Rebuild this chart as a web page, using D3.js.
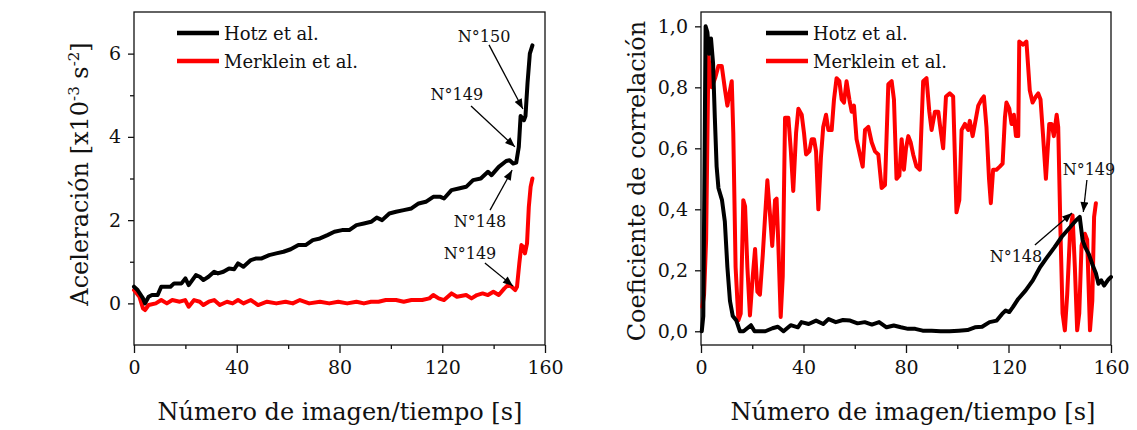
<!DOCTYPE html>
<html>
<head>
<meta charset="utf-8">
<script src="https://cdn.jsdelivr.net/npm/d3@7"></script>
<style>
  body { margin: 0; background: #fff; }
  svg text { font-family: "DejaVu Serif", serif; fill: #111; }
</style>
</head>
<body>
<div id="chart"></div>
<script>
/**
 * DATA
 * */
// left panel: acceleration [x10^-3 s^-2] vs image number / time [s]
const hotzAcc = [[0,0.4],[1.4,0.32],[3.5,0.12],[4.3,0.0],[5.7,0.16],[7,0.2],[9.2,0.2],[10.6,0.4],[14.2,0.4],
  [15.6,0.48],[18.5,0.48],[20,0.6],[21.3,0.44],[22.7,0.56],[24.1,0.68],[25.6,0.64],[27,0.56],[29,0.64],
  [31.2,0.76],[32.7,0.72],[34.8,0.76],[37,0.84],[39,0.82],[40.5,0.96],[42.6,0.88],[45.5,1.04],[47.6,1.08],
  [49.7,1.08],[52.6,1.16],[55.4,1.2],[58.2,1.24],[61,1.3],[64,1.4],[66.8,1.4],[69.6,1.52],[72.4,1.56],
  [75.3,1.64],[78,1.72],[81,1.76],[83.8,1.76],[86.6,1.88],[89.5,1.92],[92.3,1.96],[94.5,2.06],[96.6,2.0],
  [99.4,2.16],[102,2.2],[105,2.24],[108,2.28],[110.8,2.4],[113.6,2.44],[116.5,2.56],[119.3,2.56],[120.7,2.52],
  [123.6,2.72],[126.4,2.76],[129.3,2.8],[132,2.96],[135,3.0],[137.8,3.16],[139.2,3.08],[142,3.28],[144.9,3.42],
  [146.2,3.44],[147.6,3.36],[148.8,3.38],[149.8,3.76],[150.5,4.5],[151.8,4.4],[152.4,4.5],[153.2,5.3],
  [154.1,6.0],[155.1,6.2]];

const merkleinAcc = [[0,0.32],[2.1,0.16],[3.5,-0.12],[4.3,-0.16],[5.7,-0.04],[8.5,0],[10.6,0.08],[12.8,0],
  [14.9,0.08],[17.8,0.04],[19.9,0.08],[21.3,-0.08],[23.4,0.08],[25.6,0.04],[27,-0.04],[29.1,0.04],[31.2,0.08],
  [33.4,-0.04],[36.2,0.04],[38.4,0],[40.5,0.08],[42.6,0],[45.5,0.08],[48.3,-0.04],[51.8,0.04],[55.4,0],
  [59,0.04],[61.8,0],[64.6,0.08],[68.2,0],[72.4,0.04],[76,0],[79.5,0.04],[83,0],[86.6,0.04],[89.5,0],
  [92.3,0.04],[95.2,0.04],[98,0.08],[102,0.08],[105,0.04],[108,0.08],[112.2,0.08],[115,0.12],[116.5,0.2],
  [118.6,0.12],[120.7,0.08],[123.6,0.24],[125.7,0.16],[129.3,0.2],[131.4,0.12],[133.5,0.2],[135.7,0.24],
  [137.8,0.2],[139.9,0.28],[142,0.2],[144.2,0.36],[145.6,0.44],[147,0.4],[148.4,0.32],[149.1,0.4],[150,0.96],
  [150.8,1.4],[151.5,1.36],[152.2,1.2],[153,1.44],[153.7,2.32],[154.4,2.8],[155.1,3.0]];

// right panel: correlation coefficient vs image number / time [s]
const hotzCorr = [[0.3,0],[0.9,0.05],[1.8,1.0],[2.5,0.98],[3.2,0.91],[3.9,0.96],[4.7,0.88],[5.4,0.70],
  [6.1,0.54],[6.8,0.47],[8.2,0.43],[9.3,0.36],[10.3,0.21],[11.3,0.10],[12.4,0.05],[13.8,0.035],[15.2,0.0],
  [16.6,0.0],[19.5,0.02],[20.9,0],[25.1,0],[27.9,0.01],[30,0.015],[32.2,0],[35,0.02],[37.8,0.013],[39.2,0.03],
  [42,0.024],[44.9,0.035],[47.7,0.024],[49.8,0.04],[52.6,0.03],[55.4,0.037],[58.2,0.035],[61.1,0.026],
  [63.9,0.03],[66.7,0.022],[69.5,0.03],[72.4,0.013],[75.2,0.019],[78,0.013],[80.8,0.008],[83.6,0.008],
  [86.5,0.002],[90,0.002],[93.5,0],[97,0],[100.6,0.002],[104,0.004],[106.9,0.013],[109.7,0.015],[112.6,0.03],
  [115.4,0.035],[117.5,0.057],[118.9,0.068],[120.3,0.063],[121.7,0.079],[123.8,0.106],[126.7,0.134],
  [129.5,0.167],[132.3,0.21],[135.1,0.243],[138,0.276],[140.8,0.31],[143.6,0.337],[146.4,0.364],[147.8,0.375],
  [148.9,0.30],[149.9,0.276],[151.3,0.254],[152.7,0.22],[154.1,0.19],[155.1,0.156],[156.2,0.167],[157.3,0.15],
  [159,0.17],[160,0.178]];

const merkleinCorr = [[0.5,0.08],[1.2,0.12],[2.0,0.3],[2.9,0.9],[4.2,0.80],[5.5,0.83],[6.8,0.87],[8.1,0.87],
  [9.4,0.79],[10.3,0.74],[11.1,0.78],[12,0.82],[12.6,0.65],[13.5,0.21],[14.6,0.036],[15.5,0.058],[16.5,0.43],
  [17.2,0.41],[18.1,0.21],[19.1,0.052],[20.2,0.18],[21.1,0.27],[22,0.13],[23,0.12],[24.1,0.25],[25,0.375],
  [25.9,0.495],[26.9,0.386],[27.8,0.28],[28.9,0.43],[29.5,0.435],[30.2,0.28],[31.1,0.047],[31.9,0.18],
  [32.8,0.70],[34.1,0.70],[35,0.60],[36,0.46],[37.1,0.65],[38,0.73],[39.3,0.71],[40.2,0.65],[41,0.58],
  [42.3,0.59],[43.2,0.63],[44.1,0.63],[44.9,0.59],[45.8,0.40],[46.8,0.57],[47.7,0.67],[48.8,0.71],[49.7,0.66],
  [51,0.66],[51.9,0.76],[52.9,0.83],[54,0.82],[54.9,0.76],[55.8,0.75],[56.8,0.82],[57.9,0.76],[58.8,0.72],
  [59.7,0.74],[60.7,0.63],[62,0.58],[63.1,0.54],[64,0.66],[65.3,0.67],[66.6,0.62],[67.9,0.59],[69.2,0.58],
  [70.5,0.47],[71.8,0.48],[73.1,0.81],[74.4,0.82],[75.3,0.76],[76.3,0.50],[77.4,0.51],[78.3,0.63],[79.2,0.53],
  [80,0.60],[80.9,0.64],[81.8,0.62],[82.8,0.58],[84.1,0.54],[85.4,0.53],[86.7,0.82],[88,0.83],[89.1,0.72],
  [90,0.66],[91.3,0.72],[92.6,0.72],[93.5,0.66],[94.5,0.60],[95.6,0.77],[97.1,0.78],[98.4,0.77],[99.7,0.39],
  [100.8,0.43],[101.7,0.66],[103,0.68],[104.3,0.66],[104.9,0.69],[106,0.64],[106.9,0.68],[108.2,0.74],
  [109.5,0.76],[110.4,0.77],[111.4,0.67],[112.4,0.50],[113.1,0.42],[114,0.53],[115.3,0.53],[116.6,0.54],
  [117.7,0.55],[118.6,0.70],[119.2,0.75],[120.3,0.73],[121.2,0.68],[122.1,0.71],[122.9,0.64],[123.8,0.64],
  [124.2,0.95],[125.7,0.94],[127,0.95],[128.3,0.79],[129.4,0.75],[130.7,0.77],[131.6,0.78],[132.5,0.76],
  [133.5,0.64],[134.6,0.50],[135.9,0.68],[136.8,0.68],[137.7,0.64],[138.8,0.71],[139.4,0.67],[140.3,0.32],
  [141.1,0.058],[142,0.003],[142.9,0.12],[144,0.32],[145,0.38],[145.9,0.21],[146.8,0.003],[147.6,0.058],
  [148.5,0.28],[149.8,0.32],[150.7,0.30],[151.8,0.003],[152.7,0.10],[153.4,0.375],[154.1,0.42]];

// axes
const xMajorTicks = [0, 40, 80, 120, 160];
const xMinorTicks = [20, 60, 100, 140];
const accMajorTicks = [0, 2, 4, 6];
const accMinorTicks = [1, 3, 5];
const corrTicks = [0, 0.2, 0.4, 0.6, 0.8, 1.0];
const seriesNames = ["Hotz et al.", "Merklein et al."];

// annotations: label position and arrow (from -> to) in data units
const accNotes = [
  { text: "N°150", tx: 136.3, ty: 6.28, from: [138.2, 6.21], to: [151.4, 4.67] },
  { text: "N°149", tx: 125.7, ty: 4.89, from: [131.2, 4.74], to: [148.3, 3.76] },
  { text: "N°148", tx: 134.7, ty: 1.84, from: [138.6, 2.24], to: [147.2, 3.20] },
  { text: "N°149", tx: 130.8, ty: 1.07, from: [136.6, 0.97], to: [147.5, 0.42] }
];
const corrNotes = [
  { text: "N°149", tx: 151.4, ty: 0.513, from: [150.6, 0.496], to: [149.2, 0.391] },
  { text: "N°148", tx: 122.9, ty: 0.227, from: [130.3, 0.283], to: [144.8, 0.388] }
];

/**
 * LAYOUT
 * */
const width = 1137, height = 430;
const colors = ["#000000", "#ff0000"];

const svg = d3.select("#chart").append("svg")
  .attr("width", width)
  .attr("height", height);

svg.append("defs").append("marker")
  .attr("id", "arrow")
  .attr("markerUnits", "userSpaceOnUse")
  .attr("viewBox", "0 0 10 8")
  .attr("refX", 10).attr("refY", 4)
  .attr("markerWidth", 11).attr("markerHeight", 8)
  .attr("orient", "auto")
  .append("path")
  .attr("d", "M0,0 L10,4 L0,8 Z")
  .attr("fill", "#000");

function panel(opt) {
  const x = d3.scaleLinear().domain([0, 160]).range([opt.left, opt.right]);
  const y = d3.scaleLinear().domain(opt.yDomain).range([opt.bottom, opt.top]);
  const g = svg.append("g");

  // axes
  const xMinor = g.append("g").attr("transform", `translate(0,${opt.bottom})`)
    .call(d3.axisBottom(x).tickValues(xMinorTicks).tickSize(4).tickFormat(""));
  const xMajor = g.append("g").attr("transform", `translate(0,${opt.bottom})`)
    .call(d3.axisBottom(x).tickValues(xMajorTicks).tickSize(8).tickPadding(8));
  const yMajor = g.append("g").attr("transform", `translate(${opt.left},0)`)
    .call(d3.axisLeft(y).tickValues(opt.yTicks).tickSize(6).tickPadding(7).tickFormat(opt.fmt));
  if (opt.yMinor.length) {
    g.append("g").attr("transform", `translate(${opt.left},0)`)
      .call(d3.axisLeft(y).tickValues(opt.yMinor).tickSize(4).tickFormat(""))
      .call(a => a.select(".domain").remove());
  }
  [xMinor, xMajor, yMajor].forEach(a => a.select(".domain").remove());
  g.selectAll(".tick line").attr("stroke", "#111").attr("stroke-width", 1.3);
  g.selectAll(".tick text").attr("font-size", 19).attr("font-family", "DejaVu Serif").attr("fill", "#111");

  // frame
  g.append("rect")
    .attr("x", opt.left).attr("y", opt.top)
    .attr("width", opt.right - opt.left).attr("height", opt.bottom - opt.top)
    .attr("fill", "none").attr("stroke", "#111").attr("stroke-width", 1.3);

  // lines (red under black)
  const line = d3.line().x(d => x(d[0])).y(d => y(d[1]));
  [opt.series[1], opt.series[0]].forEach((s, i) => {
    g.append("path")
      .datum(s)
      .attr("d", line)
      .attr("fill", "none")
      .attr("stroke", colors[1 - i])
      .attr("stroke-width", 4)
      .attr("stroke-linejoin", "round")
      .attr("stroke-linecap", "round");
  });

  // legend
  seriesNames.forEach((name, i) => {
    const ly = opt.legendY[i];
    g.append("line")
      .attr("x1", opt.legendX).attr("x2", opt.legendX + 42)
      .attr("y1", ly).attr("y2", ly)
      .attr("stroke", colors[i]).attr("stroke-width", 4.5);
    g.append("text")
      .attr("x", opt.legendX + 47).attr("y", ly + 7)
      .attr("font-size", 18)
      .text(name);
  });

  // annotations
  opt.notes.forEach(n => {
    g.append("text")
      .attr("x", x(n.tx)).attr("y", y(n.ty))
      .attr("text-anchor", "middle")
      .attr("font-size", 16)
      .text(n.text);
    g.append("line")
      .attr("x1", x(n.from[0])).attr("y1", y(n.from[1]))
      .attr("x2", x(n.to[0])).attr("y2", y(n.to[1]))
      .attr("stroke", "#000").attr("stroke-width", 1.3)
      .attr("marker-end", "url(#arrow)");
  });

  // axis titles
  g.append("text")
    .attr("x", opt.xTitleX).attr("y", 420)
    .attr("text-anchor", "middle")
    .attr("font-size", 24)
    .text("Número de imagen/tiempo [s]");

  const yt = g.append("text")
    .attr("transform", `translate(${opt.yTitleX},${opt.yTitleY}) rotate(-90)`)
    .attr("text-anchor", "middle")
    .attr("font-size", 24);
  opt.yTitle(yt);
}

panel({
  left: 134, right: 545, top: 12, bottom: 345,
  yDomain: [-1, 7], yTicks: accMajorTicks, yMinor: accMinorTicks,
  fmt: d3.format("d"),
  series: [hotzAcc, merkleinAcc],
  legendX: 177, legendY: [33, 61],
  notes: accNotes,
  xTitleX: 340, yTitleX: 88, yTitleY: 174,
  yTitle: t => {
    t.append("tspan").text("Aceleración [x10");
    t.append("tspan").attr("dy", -9).attr("font-size", 15).text("-3");
    t.append("tspan").attr("dy", 9).text(" s");
    t.append("tspan").attr("dy", -9).attr("font-size", 15).text("-2");
    t.append("tspan").attr("dy", 9).text("]");
  }
});

panel({
  left: 701, right: 1111, top: 12, bottom: 345,
  yDomain: [-0.045, 1.047], yTicks: corrTicks, yMinor: [],
  fmt: d => d3.format(".1f")(d).replace(".", ","),
  series: [hotzCorr, merkleinCorr],
  legendX: 766, legendY: [33, 61],
  notes: corrNotes,
  xTitleX: 913, yTitleX: 645, yTitleY: 181,
  yTitle: t => t.text("Coeficiente de correlación")
});
</script>
</body>
</html>
